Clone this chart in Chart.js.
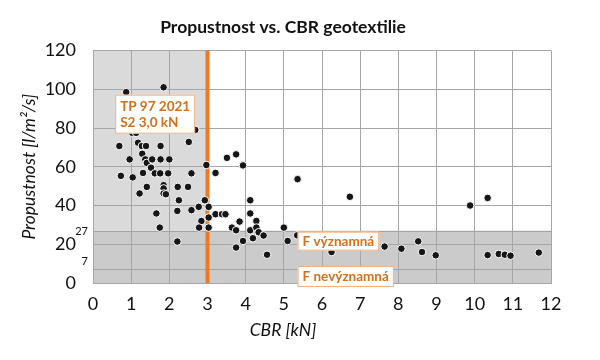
<!DOCTYPE html>
<html><head><meta charset="utf-8">
<script src="https://cdn.jsdelivr.net/npm/chart.js@4/dist/chart.umd.min.js"></script>
<style>html,body{margin:0;padding:0;background:#fff}</style>
</head><body>
<canvas id="c" width="600" height="360"></canvas>
<script>
// CBR [kN] (x) and Propustnost [l/m2/s] (y) of each geotextile
const cbr = [0.87,1.85,2.68,2.51,1.03,1.13,0.69,1.18,1.28,1.39,1.77,1.29,0.96,1.37,1.41,1.55,1.77,2.0,1.52,2.97,3.21,0.73,1.04,1.31,1.62,1.76,1.97,2.58,1.41,1.85,1.85,2.22,2.49,1.22,1.85,1.91,2.25,2.93,2.77,3.03,2.58,2.21,1.66,3.21,2.84,3.03,2.78,3.03,1.75,2.21,3.51,3.75,3.93,5.36,4.12,3.38,3.47,4.12,3.84,4.28,3.64,3.75,4.12,4.28,4.34,4.47,4.19,3.93,3.75,4.56,5.0,5.1,5.35,6.73,6.25,7.64,8.08,8.52,8.62,8.98,9.88,10.34,10.34,10.63,10.79,10.94,11.68];
const propustnost = [98.5,101,79,72.8,77.5,77.5,70.7,72.4,70.7,70.7,70.7,66.7,63.8,63.8,62,63.8,63.8,63.8,59.5,60.9,56.8,55.3,54.5,56.8,56.6,56.6,56.6,56.6,49.6,50.5,48.8,49.6,49.6,46.2,46.2,45.8,42.7,42.7,39.3,39.3,37.6,37.2,35.9,35.5,32,33.8,28.6,28.6,28.6,21.4,64.6,66.4,60.7,53.6,42.7,35.5,35.5,35.9,31.7,32,28.6,27.2,27.2,28.6,26.2,24.5,23.1,21.7,18.3,14.6,28.6,21.7,24.6,44.5,16,18.8,17.7,21.5,16,14.3,40,43.9,14.4,15,14.6,14.1,15.7];
// TP 97 2021 limit S2 = 3,0 kN
const limitCBR = [3, 3];
const limitRange = [0, 120];
// Propustnost thresholds
const thresholds = [27, 7];
const xTicks = [0,1,2,3,4,5,6,7,8,9,10,11,12];
const yTicks = [0,20,40,60,80,100,120];

const points = cbr.map((v,i)=>({x:v, y:propustnost[i]}));
const limitLine = limitCBR.map((v,i)=>({x:v, y:limitRange[i]}));

const FONT = 'Lato';
const ORANGE_TXT = '#d4701c';

function box(ctx, lines, left, top, lh, fontSize){
  ctx.font = 'bold '+fontSize+'px '+FONT;
  let w = 0; lines.forEach(t=>{w = Math.max(w, ctx.measureText(t).width);});
  const padX = 5, padY = 3;
  const h = lines.length*lh + padY*2;
  ctx.fillStyle = '#ffffff';
  ctx.fillRect(left, top, w+padX*2, h);
  ctx.strokeStyle = '#f2ae78';
  ctx.lineWidth = 1;
  ctx.strokeRect(left+0.5, top+0.5, w+padX*2-1, h-1);
  ctx.fillStyle = ORANGE_TXT;
  ctx.textAlign = 'left'; ctx.textBaseline = 'middle';
  lines.forEach((t,i)=>ctx.fillText(t, left+padX, top+padY+lh*i+lh/2+0.5));
}

const decor = {
  id:'decor',
  beforeDraw(chart){
    const {ctx, chartArea:a, scales:{x,y}} = chart;
    const x3 = x.getPixelForValue(limitCBR[0]);
    const yb = y.getPixelForValue(thresholds[0]);
    const y0 = y.getPixelForValue(0);
    ctx.save();
    ctx.fillStyle = '#dadada';
    ctx.fillRect(a.left, a.top, x3-a.left, yb-a.top);
    ctx.fillStyle = '#cbcbcb';
    ctx.fillRect(a.left, yb, a.right-a.left, y0-yb);
    ctx.restore();
  },
  beforeDatasetsDraw(chart){
    const {ctx, chartArea:a, scales:{x,y}} = chart;
    ctx.save();
    ctx.strokeStyle = '#a3a3a3'; ctx.lineWidth = 1;
    thresholds.forEach(t=>{
      const py = Math.round(y.getPixelForValue(t))+0.5;
      ctx.beginPath(); ctx.moveTo(a.left, py); ctx.lineTo(a.right, py); ctx.stroke();
    });
    ctx.fillStyle = '#111'; ctx.font = '11px '+FONT;
    ctx.textAlign = 'right'; ctx.textBaseline = 'middle';
    ctx.fillText(String(thresholds[0]), a.left-5, y.getPixelForValue(thresholds[0])+0.5);
    ctx.fillText(String(thresholds[1]), a.left-5, y.getPixelForValue(thresholds[1])-8);
    ctx.restore();
  },
  afterDatasetsDraw(chart){
    const {ctx, chartArea:a, scales:{x,y}} = chart;
    ctx.save();
    box(ctx, ['TP 97 2021','S2 3,0 kN'], x.getPixelForValue(0.58), y.getPixelForValue(97.2), 16.5, 13.5);
    box(ctx, ['F významná'], x.getPixelForValue(5.36), y.getPixelForValue(26.5), 13, 13.5);
    box(ctx, ['F nevýznamná'], x.getPixelForValue(5.36), y.getPixelForValue(8.8), 15, 13.5);
    ctx.fillStyle = '#111';
    ctx.font = 'italic 17.5px '+FONT;
    ctx.textAlign = 'center'; ctx.textBaseline = 'middle';
    ctx.fillText('CBR [kN]', 283, 330);
    ctx.restore();
  }
};

new Chart(document.getElementById('c'), {
  data:{
    datasets:[
      {type:'scatter', label:'geotextilie', data:points, backgroundColor:'#161616', borderColor:'#ffffff', borderWidth:1, pointRadius:3.8, pointHoverRadius:3.8, order:0},
      {type:'line', label:'S2 3,0 kN', data:limitLine, borderColor:'#ec7a24', borderWidth:4, pointRadius:0, fill:false, order:1}
    ]
  },
  options:{
    responsive:false, animation:false,
    layout:{padding:{left:15, right:49, top:0, bottom:0}},
    plugins:{
      legend:{display:false}, tooltip:{enabled:false},
      title:{display:true, text:'Propustnost vs. CBR geotextilie', color:'#111', font:{family:FONT, size:17.5, weight:'bold'}, padding:{top:17, bottom:12.5}}
    },
    scales:{
      x:{type:'linear', min:0, max:12,
        afterBuildTicks(s){ s.ticks = xTicks.map(v=>({value:v})); },
        afterFit(s){ s.height = 77; },
        grid:{color:'#a6a6a6', drawTicks:false}, border:{color:'#a6a6a6'},
        ticks:{padding:10, color:'#111', font:{family:FONT, size:18}}
      },
      y:{type:'linear', min:0, max:120,
        afterBuildTicks(s){ s.ticks = yTicks.map(v=>({value:v})); },
        afterFit(s){ s.width = 78; },
        grid:{color:'#a6a6a6', drawTicks:false}, border:{color:'#a6a6a6'},
        ticks:{padding:17, color:'#111', font:{family:FONT, size:18}},
        title:{display:true, text:'Propustnost [l/m²/s]', color:'#111', font:{family:FONT, size:17.5, style:'italic'}, padding:{top:3.5, bottom:0}}
      }
    }
  },
  plugins:[decor]
});
</script>
</body></html>
